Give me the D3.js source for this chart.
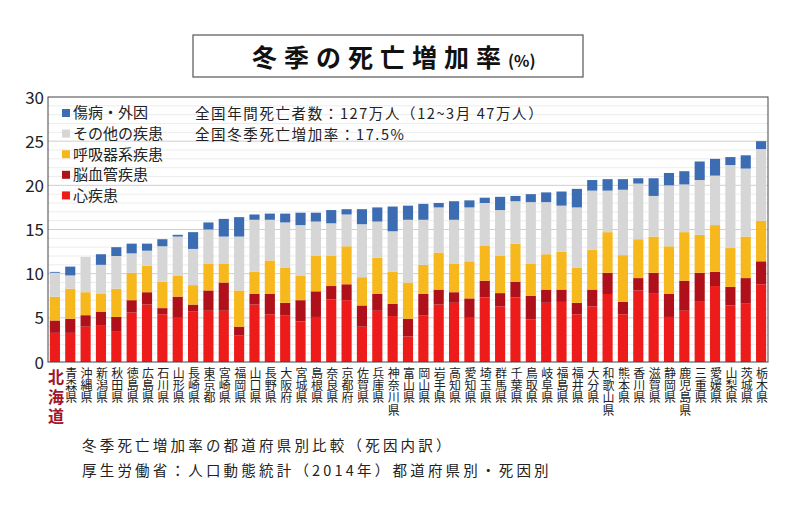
<!doctype html>
<html>
<head>
<meta charset="utf-8">
<script src="https://d3js.org/d3.v7.min.js"></script>
<style>
  body { margin: 0; background: #fff; }
  text { font-family: "Noto Sans CJK JP", "Noto Sans", sans-serif; }
</style>
</head>
<body>
<div id="viz"></div>
<script>

// prefectures, sorted by total winter excess (%)
var prefectures = ['北海道','青森県','沖縄県','新潟県','秋田県','徳島県','広島県','石川県','山形県','長崎県',
  '東京都','宮崎県','福岡県','山口県','長野県','大阪府','宮城県','島根県','奈良県','京都府',
  '佐賀県','兵庫県','神奈川県','富山県','岡山県','岩手県','高知県','愛知県','埼玉県','群馬県',
  '千葉県','鳥取県','岐阜県','福島県','福井県','大分県','和歌山県','熊本県','香川県','滋賀県',
  '静岡県','鹿児島県','三重県','愛媛県','山梨県','茨城県','栃木県']

var heart = [3.3,3.3,4.0,4.1,3.5,5.6,6.5,5.4,5.0,5.7, 5.8,5.8,3.0,6.5,5.4,5.3,4.6,5.1,7.1,7.0,
  4.0,5.8,5.2,2.9,5.3,6.5,6.7,5.0,7.3,6.3, 7.3,4.8,6.7,6.8,5.4,6.3,7.7,5.4,8.1,7.8,
  5.1,5.8,6.9,8.6,6.4,6.6,8.8]
var cerebro = [1.4,1.6,1.3,1.6,1.6,1.4,1.4,0.7,2.4,0.8, 2.3,3.2,1.0,1.2,2.3,1.4,2.4,2.9,1.5,1.8,
  2.4,1.9,1.4,2.0,2.4,1.7,1.2,2.2,1.9,1.5, 1.8,2.7,1.5,1.4,1.3,1.9,2.4,1.4,1.4,2.3,
  2.6,3.4,3.2,1.6,2.1,2.9,2.6]
var respiratory = [2.7,3.4,2.6,2.0,3.2,3.1,3.0,3.0,2.4,2.2, 3.0,2.1,4.1,2.5,3.8,4.0,2.8,4.0,3.4,4.3,
  3.2,4.1,3.6,4.1,3.3,4.2,3.2,4.2,4.0,4.2, 4.3,3.6,4.0,4.3,4.0,4.5,4.6,5.3,4.4,4.1,
  5.4,5.5,4.3,5.3,4.4,4.7,4.6]
var otherDisease = [2.7,1.5,4.0,3.3,3.7,2.2,1.7,4.0,4.4,4.1, 3.9,3.1,6.1,5.9,4.6,5.1,5.7,3.9,3.7,3.6,
  6.0,4.1,4.6,7.1,5.1,5.1,5.0,6.1,4.8,5.2, 4.8,7.0,5.9,5.2,6.8,6.7,4.7,7.4,6.3,4.6,
  6.9,5.4,6.2,5.6,9.4,7.7,8.1]
var injury = [0.1,1.0,0.0,1.2,1.0,1.1,0.8,0.8,0.2,1.9, 0.8,2.0,2.2,0.6,0.7,1.0,1.4,1.0,1.5,0.6,
  1.7,1.6,2.8,1.6,1.8,0.5,2.1,0.8,0.6,1.5, 0.6,0.9,1.1,1.6,2.1,1.2,1.3,1.2,0.6,2.0,
  1.4,1.5,2.1,1.9,0.9,1.5,0.9]

var yTicks = [0, 5, 10, 15, 20, 25, 30]

var causes = [
  { key: 'heart', label: '心疾患', color: '#ee1b1b', values: heart },
  { key: 'cerebro', label: '脳血管疾患', color: '#b0101a', values: cerebro },
  { key: 'respiratory', label: '呼吸器系疾患', color: '#f6b81d', values: respiratory },
  { key: 'other', label: 'その他の疾患', color: '#d6d6d6', values: otherDisease },
  { key: 'injury', label: '傷病・外因', color: '#3c6db2', values: injury }
]

var rows = prefectures.map(function(p, i) {
  var r = { name: p }
  causes.forEach(function(c) { r[c.key] = c.values[i] })
  return r
})

var W = 800, H = 520
var plot = { left: 48, right: 768, top: 97, bottom: 362 }

var svg = d3.select('#viz').append('svg')
  .attr('width', W)
  .attr('height', H)

var x = d3.scaleBand()
  .domain(prefectures)
  .range([plot.left, plot.right])
  .paddingInner(0.34)
  .paddingOuter(0.12)

var y = d3.scaleLinear()
  .domain([0, 30])
  .range([plot.bottom, plot.top])

// gridlines, every unit, stronger every 5
svg.append('g')
  .selectAll('line')
  .data(d3.range(1, 30))
  .enter()
  .append('line')
  .attr('x1', plot.left)
  .attr('x2', plot.right)
  .attr('y1', function(d) { return y(d) })
  .attr('y2', function(d) { return y(d) })
  .style('stroke', function(d) { return d % 5 == 0 ? '#cfcfcf' : '#ececec' })
  .style('stroke-width', 1)

var stack = d3.stack().keys(causes.map(function(c) { return c.key }))

svg.append('g')
  .selectAll('g')
  .data(stack(rows))
  .enter()
  .append('g')
  .style('fill', function(d, i) { return causes[i].color })
  .selectAll('rect')
  .data(function(d) { return d })
  .enter()
  .append('rect')
  .attr('x', function(d) { return x(d.data.name) })
  .attr('width', x.bandwidth())
  .attr('y', function(d) { return y(d[1]) })
  .attr('height', function(d) { return y(d[0]) - y(d[1]) })

// frame
svg.append('rect')
  .attr('x', plot.left)
  .attr('y', plot.top)
  .attr('width', plot.right - plot.left)
  .attr('height', plot.bottom - plot.top)
  .style('fill', 'none')
  .style('stroke', '#444')
  .style('stroke-width', 1)

// y axis
var yAxis = svg.append('g')
  .attr('transform', 'translate(' + plot.left + ',0)')
  .call(d3.axisLeft(y).tickValues(yTicks).tickSize(0).tickPadding(4))
yAxis.select('.domain').remove()
yAxis.selectAll('text')
  .style('font-size', '17px')
  .style('fill', '#222')
  .attr('dy', '0.36em')

// x axis: vertical labels, written top to bottom
var xAxis = svg.append('g')
  .attr('transform', 'translate(0,' + plot.bottom + ')')
  .call(d3.axisBottom(x).tickSize(0))
xAxis.select('.domain').remove()
xAxis.selectAll('.tick text').each(function(d, i) {
  var first = i == 0
  d3.select(this)
    .attr('x', 1)
    .attr('y', first ? 7 : 5)
    .attr('dy', null)
    .attr('text-anchor', 'start')
    .style('writing-mode', 'vertical-rl')
    .style('font-size', first ? '16px' : '12px')
    .style('letter-spacing', first ? '3.5px' : '0.4px')
    .style('font-weight', first ? 'bold' : 'normal')
    .style('fill', first ? '#a3152b' : '#222')
})

// legend
var legend = svg.append('g')
  .selectAll('g')
  .data(causes.slice().reverse())
  .enter()
  .append('g')
  .attr('transform', function(d, i) { return 'translate(62,' + (113 + i * 20.6) + ')' })
legend.append('rect')
  .attr('y', -4)
  .attr('width', 8)
  .attr('height', 8)
  .style('fill', function(d) { return d.color })
legend.append('text')
  .attr('x', 11)
  .attr('dy', '0.36em')
  .style('font-size', '15px')
  .style('fill', '#222')
  .text(function(d) { return d.label })

// notes in the plot
svg.append('text')
  .attr('x', 195).attr('y', 119)
  .style('font-size', '14.5px').style('letter-spacing', '1.6px').style('fill', '#222')
  .text('全国年間死亡者数：127万人（12~3月 47万人）')
svg.append('text')
  .attr('x', 195).attr('y', 140)
  .style('font-size', '14.5px').style('letter-spacing', '1.6px').style('fill', '#222')
  .text('全国冬季死亡増加率：17.5%')

// title box
svg.append('rect')
  .attr('x', 193).attr('y', 35)
  .attr('width', 390).attr('height', 42)
  .style('fill', '#fff')
  .style('stroke', '#555')
  .style('stroke-width', 1.2)
var title = svg.append('text')
  .attr('x', 252).attr('y', 67)
  .style('fill', '#111')
title.append('tspan')
  .style('font-size', '25px').style('font-weight', 'bold').style('letter-spacing', '7px')
  .text('冬季の死亡増加率')
title.append('tspan')
  .style('font-size', '16px').style('font-weight', 'bold')
  .text('(%)')

// footer
svg.append('text')
  .attr('x', 82).attr('y', 451)
  .style('font-size', '14.5px').style('letter-spacing', '3.2px').style('fill', '#222')
  .text('冬季死亡増加率の都道府県別比較（死因内訳）')
svg.append('text')
  .attr('x', 82).attr('y', 476)
  .style('font-size', '14.5px').style('letter-spacing', '3.2px').style('fill', '#222')
  .text('厚生労働省：人口動態統計（2014年）都道府県別・死因別')

</script>
</body>
</html>
